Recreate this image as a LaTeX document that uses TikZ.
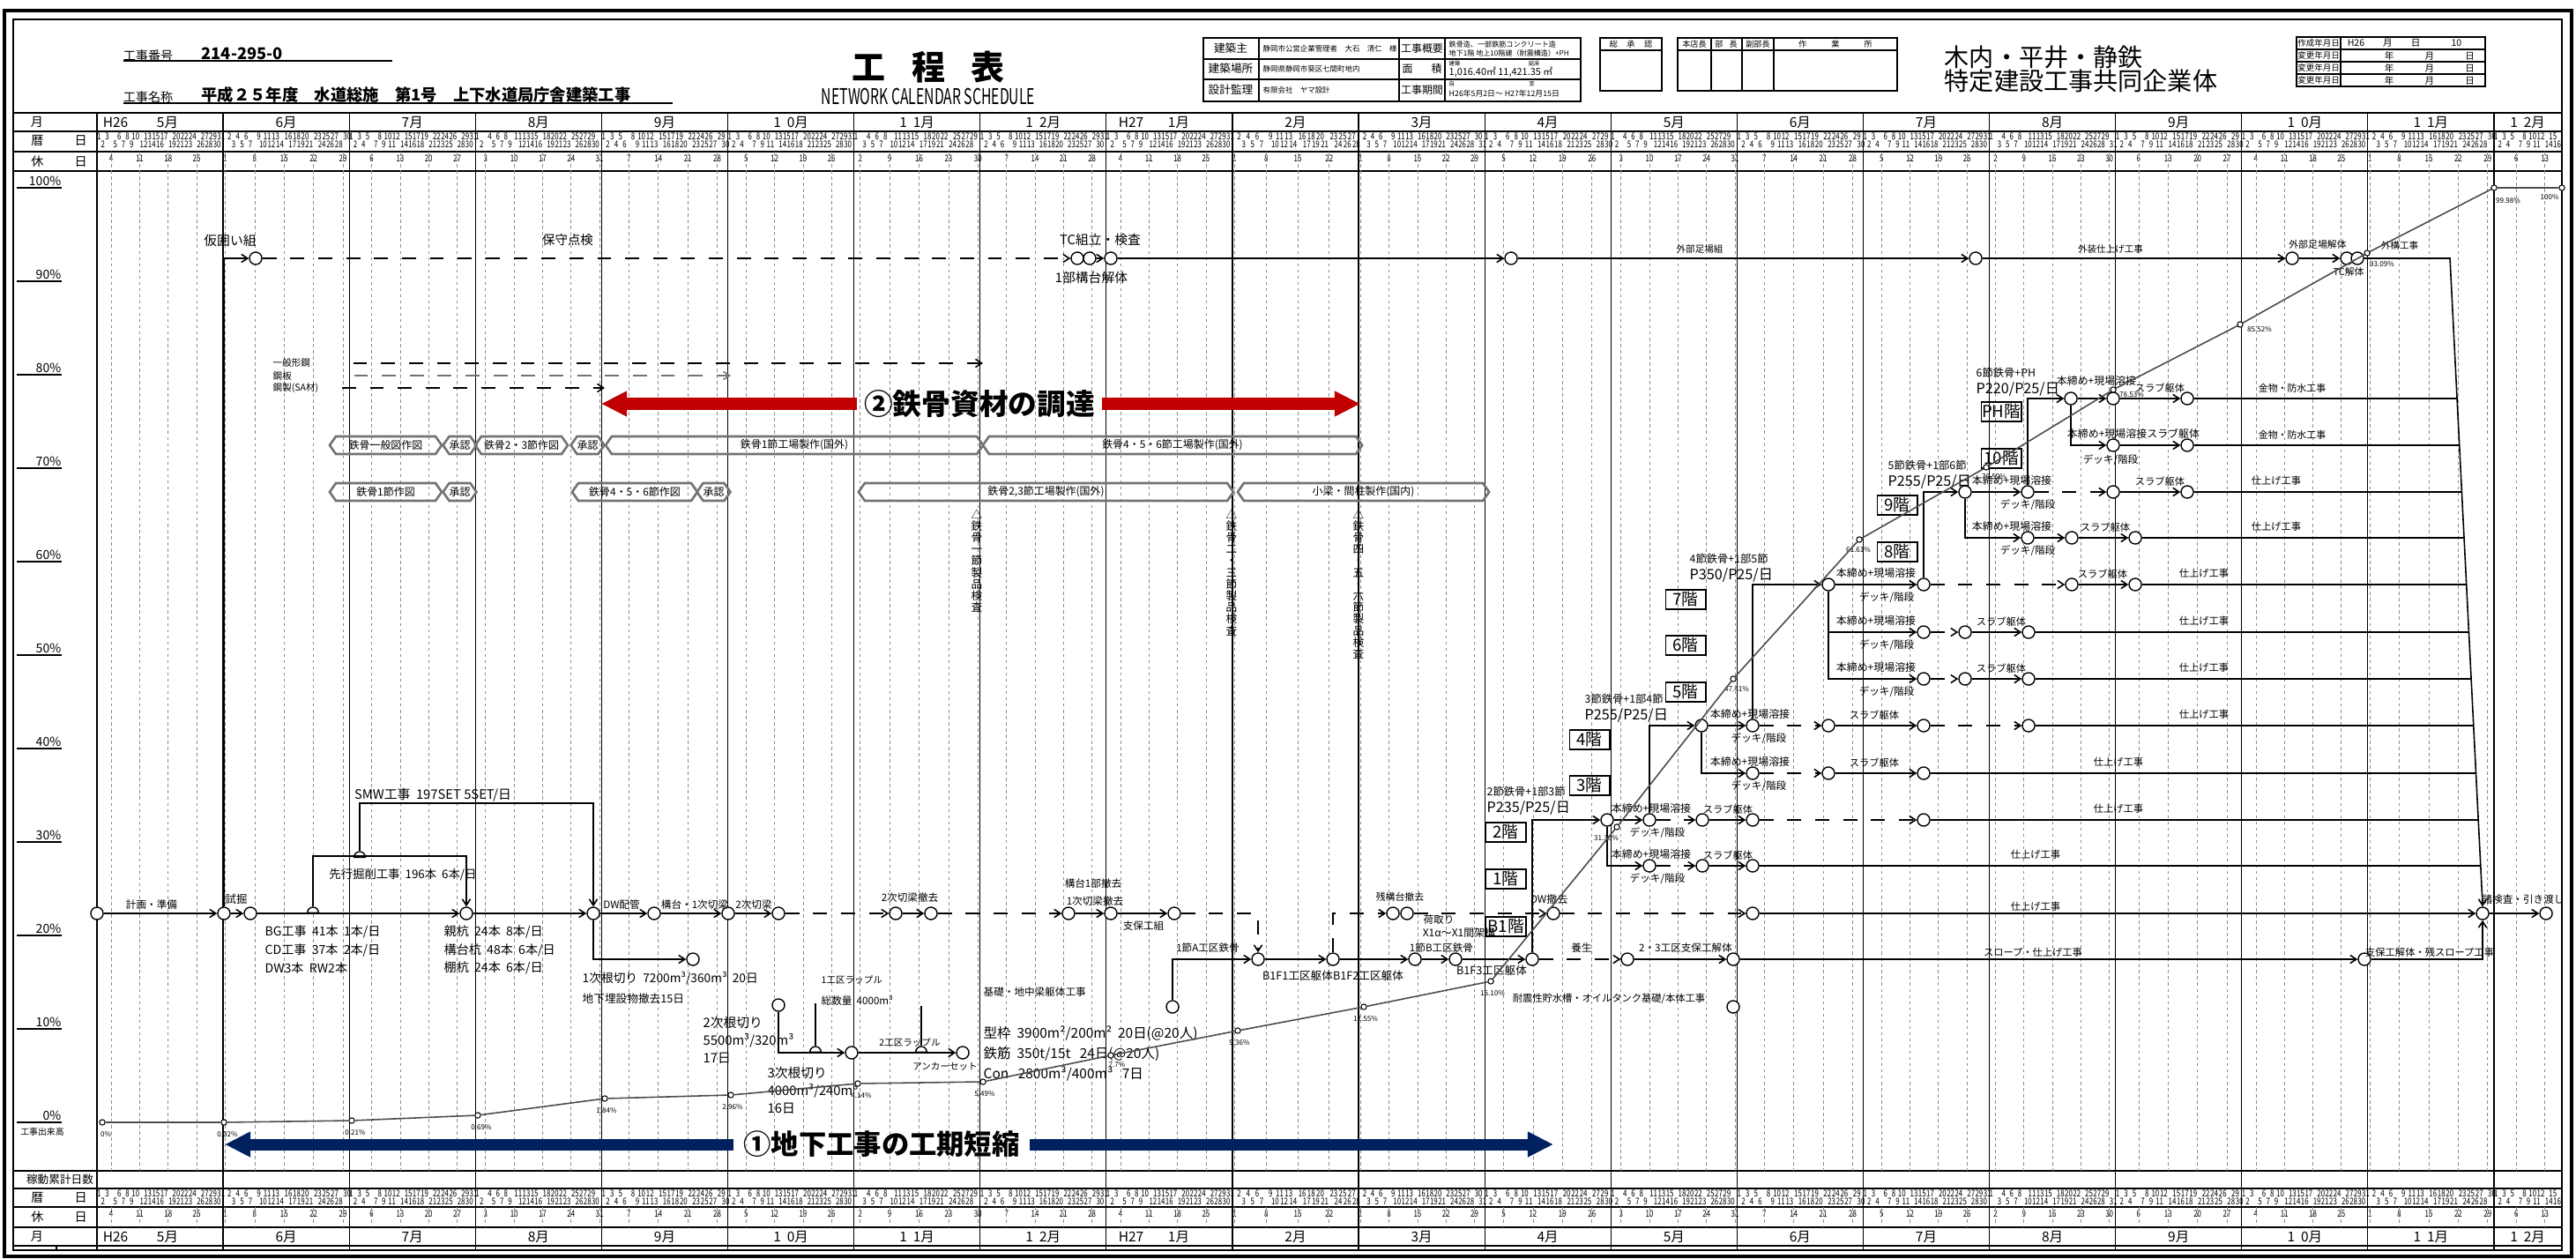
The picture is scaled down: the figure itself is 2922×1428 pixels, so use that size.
\documentclass[tikz,border=0pt]{standalone}
\usepackage{fontspec}
\setmainfont{Noto Sans CJK JP}
\usepackage{graphicx}
\usetikzlibrary{arrows.meta, positioning, calc, shapes.geometric, shapes.symbols}
\definecolor{procred}{HTML}{C00000}
\definecolor{undernavy}{HTML}{002060}
\newcounter{wd}
\newcommand\fsz[1]{\fontsize{#1}{#1}\selectfont}
% chevron box between two x positions
\newcommand\chevbox[5]{\node[chev, minimum width={(#3-#2)*0.2845pt}] (#1) at ({(#2+#3)/2},#4) {#5};}
% line from a node to the slanted closing line
\newcommand\tofin[2]{\draw[lin] (#1) -- ($(rt)!{(#2-293)/733}!(ft)$);}

\begin{document}
\begin{tikzpicture}[x=0.01cm, y=-0.01cm,
  every node/.style={inner sep=0pt, font=\fsz{3.3}},
  ev/.style={circle, draw, fill=white, minimum size=4pt, line width=0.4pt},
  hc/.style={semicircle, draw, fill=white, minimum width=3.6pt, anchor=chord center, line width=0.4pt},
  cpt/.style={circle, draw, fill=white, minimum size=1.8pt, line width=0.3pt},
  lin/.style={line width=0.45pt},
  lind/.style={lin, dash pattern=on 4.5pt off 4.5pt},
  act/.style={lin, -{Straight Barb[length=2pt, width=2.6pt]}},
  actd/.style={act, dash pattern=on 4.5pt off 4.5pt},
  curve/.style={line width=0.45pt, black!70},
  flr/.style={draw, line width=0.55pt, minimum width=12.8pt, minimum height=6.2pt, font=\fsz{5.3}},
  chev/.style={signal, signal to=east and west, signal pointer angle=110, draw=black!55, line width=0.75pt, minimum height=5.7pt, font=\fsz{3.4}},
  vlab/.style={align=center, font=\fontsize{3.6}{3.75}\selectfont, anchor=north},
  pct/.style={font=\fsz{2.3}},
  grid/.style={line width=0.35pt},
  sunl/.style={line width=0.2pt, black!45, dash pattern=on 1pt off 1pt},
  daynum/.style={font=\fsz{3}},
  mon/.style={font=\fsz{4.4}},
  redarr/.style={line width=3.7pt, procred, -{Triangle[length=8.3pt, width=7.7pt]}},
  bluearr/.style={line width=3.7pt, undernavy, -{Triangle[length=8.3pt, width=7.7pt]}}
]
\useasboundingbox (0,0) rectangle (2922,1428);

% frame
\draw[line width=1.1pt] (5,12) rectangle (2917,1425);
\draw[line width=0.5pt] (15,22) rectangle (2906,1418);

% title block
\node[font=\fsz{4}] (noLbl) at (168,63) {工事番号};
\node[anchor=west, font=\bfseries\fsz{5.2}] (noVal) at (228,61) {214-295-0};
\draw[grid] (140,69) -- (445,69);
\node[font=\fsz{4}] (nmLbl) at (168,110) {工事名称};
\node[anchor=west, font=\bfseries\fsz{5.2}] (nmVal) at (228,108) {平成２５年度　水道総施　第1号　上下水道局庁舎建築工事};
\draw[grid] (140,117) -- (763,117);
\node[font=\bfseries\fsz{10.8}] (ttl) at (1053,76) {工\hspace{8.3pt}程\hspace{8.3pt}表};
\node (ttlEn) at (1053,109) {\scalebox{0.64}[1]{\fsz{7}NETWORK CALENDAR SCHEDULE}};

% project table
\draw[line width=0.5pt] (1365,43) rectangle (1793,115);
\draw[grid] (1365,67) -- (1793,67);
\draw[grid] (1365,90) -- (1793,90);
\foreach \xx in {1428,1587,1639} \draw[grid] (\xx,43) -- (\xx,115);
\node[font=\fsz{3.6}] (pOwner) at (1396,55) {建築主};
\node[font=\fsz{3.6}] (pSite) at (1396,78) {建築場所};
\node[font=\fsz{3.6}] (pDesign) at (1396,102) {設計監理};
\node[anchor=west, font=\fsz{2.4}] (vOwner) at (1432,55) {静岡市公営企業管理者　大石　清仁　様};
\node[anchor=west, font=\fsz{2.4}] (vSite) at (1432,78) {静岡県静岡市葵区七間町地内};
\node[anchor=west, font=\fsz{2.4}] (vDesign) at (1432,102) {有限会社　ヤマ設計};
\node[font=\fsz{3.4}] (pOutline) at (1613,55) {工事概要};
\node[font=\fsz{3.4}] (pArea) at (1613,78) {面\hspace{6pt}積};
\node[font=\fsz{3.4}] (pTerm) at (1613,102) {工事期間};
\node[anchor=west, font=\fsz{2.3}] (vOut1) at (1643,50) {鉄骨造、一部鉄筋コンクリート造};
\node[anchor=west, font=\fsz{2.3}] (vOut2) at (1643,60) {地下1階 地上10階建（耐震構造）+PH};
\node[anchor=west, font=\fsz{1.8}] (vArea1) at (1643,72) {建築\hspace{22pt}延床};
\node[anchor=west, font=\fsz{3.1}] (vArea2) at (1643,82) {1,016.40㎡ 11,421.35 ㎡};
\node[anchor=west, font=\fsz{1.8}] (vTerm1) at (1643,95) {自\hspace{24pt}至};
\node[anchor=west, font=\fsz{2.5}] (vTerm2) at (1643,106) {H26年5月2日〜 H27年12月15日};

% approval boxes
\draw[grid] (1815,43) rectangle (1885,103);
\draw[grid] (1815,57) -- (1885,57);
\node[font=\fsz{2.6}] (apHead) at (1850,50) {総\hspace{3pt}承\hspace{3pt}認};
\draw[grid] (1903,43) rectangle (2152,103);
\draw[grid] (1903,57) -- (2152,57);
\foreach \xx in {1941,1976,2012} \draw[grid] (\xx,43) -- (\xx,103);
\node[font=\fsz{2.6}] (apBoss) at (1922,50) {本店長};
\node[font=\fsz{2.6}] (apMgr) at (1958,50) {部\hspace{2pt}長};
\node[font=\fsz{2.6}] (apSub) at (1994,50) {副部長};
\node[font=\fsz{2.6}] (apSite) at (2082,50) {作\hspace{8pt}業\hspace{8pt}所};

% contractor
\node[anchor=west, font=\fsz{8}] (jv1) at (2205,65) {木内・平井・静鉄};
\node[anchor=west, font=\fsz{8}] (jv2) at (2205,92) {特定建設工事共同企業体};

% revision table
\draw[grid] (2605,42) rectangle (2819,98);
\foreach \yy in {56,70,84} \draw[grid] (2605,\yy) -- (2819,\yy);
\draw[grid] (2655,42) -- (2655,98);
\node[font=\fsz{2.7}] (rvMade) at (2630,49) {作成年月日};
\node[anchor=west, font=\fsz{3}] (rvMadeV) at (2662,49) {H26\hspace{6pt}月\hspace{6pt}日\hspace{10pt}10};
\foreach \yy [count=\i] in {63,77,91}{
  \node[font=\fsz{2.7}] (rvChg\i) at (2630,\yy) {変更年月日};
  \node[anchor=west, font=\fsz{3}] (rvChgV\i) at (2662,\yy) {\hspace{12pt}年\hspace{10pt}月\hspace{10pt}日};
}

% calendar rows
\foreach \yy in {128,149,172,194,1328,1348,1369,1392,1413} \draw[grid] (15,\yy) -- (2906,\yy);
\foreach \m in {0,...,19} \draw[grid] ({110+143.1*\m},128) -- ({110+143.1*\m},1418);
\draw[grid] (64,1413) -- (64,1418);
\node[font=\fsz{4}] (lMonth) at (42,139) {月};
\node[font=\fsz{4}] (lCal) at (67,160) {暦\hspace{10pt}日};
\node[font=\fsz{4}] (lHol) at (67,183) {休\hspace{10pt}日};
\node[font=\fsz{3.6}] (lCum) at (68,1338) {稼動累計日数};
\node[font=\fsz{4}] (lCal2) at (67,1358) {暦\hspace{10pt}日};
\node[font=\fsz{4}] (lHol2) at (67,1380) {休\hspace{10pt}日};
\node[font=\fsz{4}] (lMonth2) at (42,1403) {月};

\foreach \m/\lab in {0/5月,1/6月,2/7月,3/8月,4/9月,5/{1~~0月},6/{1~~1月},7/{1~~2月},8/1月,9/2月,
    10/3月,11/4月,12/5月,13/6月,14/7月,15/8月,16/9月,17/{1~~0月},18/{1~~1月},19/{1~~2月}}{
  \pgfmathsetmacro\xm{110+143.1*(\m+0.5)}
  \ifnum\m=0 \def\xm{190}\fi
  \ifnum\m=8 \def\xm{1337}\fi
  \ifnum\m=19 \def\xm{2867}\fi
  \node[mon] (mt\m) at (\xm,139) {\lab};
  \node[mon] (mb\m) at (\xm,1403) {\lab};
}
\node[mon] (yrA) at (131,139) {H26};
\node[mon] (yrAb) at (131,1403) {H26};
\node[mon] (yrB) at (1283,139) {H27};
\node[mon] (yrBb) at (1283,1403) {H27};

% days: working days alternate on two lines, Sundays in the holiday row
\foreach \m/\nd/\st/\ns in {0/31/4/31,1/30/0/30,2/31/2/31,3/31/5/31,4/30/1/30,5/31/3/31,6/30/6/30,
    7/31/1/31,8/31/4/31,9/28/0/28,10/31/0/31,11/30/3/30,12/31/5/31,13/30/1/30,14/31/3/31,
    15/31/6/31,16/30/2/30,17/31/4/31,18/30/0/30,19/31/2/16}{
  \setcounter{wd}{0}
  \foreach \d in {1,...,\ns}{
    \pgfmathtruncatemacro\dow{mod(\st+\d-1,7)}
    \pgfmathsetmacro\xx{110+143.1*\m+(\d-0.5)*143.1/\nd}
    \ifnum\dow=0
      \node[daynum] (ht-\m-\d) at (\xx,180) {\scalebox{0.75}[1]{\d}};
      \node[daynum] (hb-\m-\d) at (\xx,1377) {\scalebox{0.75}[1]{\d}};
      \draw[sunl] (\xx,172) -- (\xx,1328);
      \draw[sunl] (\xx,1369) -- (\xx,1392);
    \else
      \stepcounter{wd}
      \ifodd\value{wd}
        \node[daynum] (ct-\m-\d) at (\xx,155) {\scalebox{0.75}[1]{\d}};
        \node[daynum] (cb-\m-\d) at (\xx,1354) {\scalebox{0.75}[1]{\d}};
      \else
        \node[daynum] (ct-\m-\d) at (\xx,164) {\scalebox{0.75}[1]{\d}};
        \node[daynum] (cb-\m-\d) at (\xx,1363) {\scalebox{0.75}[1]{\d}};
      \fi
    \fi
  }
}

% percent scale
\foreach \p in {0,10,...,100}{
  \pgfmathsetmacro\yy{1273-10.6*\p}
  \draw[line width=0.5pt] (19,\yy) -- (70,\yy);
  \node[anchor=south east, font=\fsz{4}] (pc\p) at (70,\yy-2) {\p\%};
}
\node[font=\fsz{2.8}] (lDone) at (48,1284) {工事出来高};

% steel drawings and fabrication
\chevbox{cv1}{374}{501}{505}{鉄骨一般図作図}
\chevbox{cv2}{504}{539}{505}{承認}
\chevbox{cv3}{539}{644}{505}{鉄骨2・3節作図}
\chevbox{cv4}{649}{684}{505}{承認}
\chevbox{cv5}{687}{1115}{505}{鉄骨1節工場製作(国外)}
\chevbox{cv6}{1115}{1545}{505}{鉄骨4・5・6節工場製作(国外)}
\chevbox{cv7}{374}{501}{558}{鉄骨1節作図}
\chevbox{cv8}{504}{539}{558}{承認}
\chevbox{cv9}{649}{791}{558}{鉄骨4・5・6節作図}
\chevbox{cv10}{792}{827}{558}{承認}
\chevbox{cv11}{974}{1399}{558}{鉄骨2,3節工場製作(国外)}
\chevbox{cv12}{1404}{1689}{558}{小梁・間柱製作(国内)}

\node[vlab] (insp1) at (1108,577) {△\\鉄\\骨\\一\\節\\製\\品\\検\\査};
\node[vlab] (insp2) at (1397,577) {△\\鉄\\骨\\二\\・\\三\\節\\製\\品\\検\\査};
\node[vlab] (insp3) at (1541,577) {△\\鉄\\骨\\四\\・\\五\\・\\六\\節\\製\\品\\検\\査};

% material orders
\node[anchor=west, font=\fsz{3}] (tIppan) at (309,412) {一般形鋼};
\node[anchor=west, font=\fsz{3}] (tKohan) at (309,426) {鋼板};
\node[anchor=west, font=\fsz{3}] (tSA) at (309,440) {鋼製(SA材)};
\coordinate (pe1) at (1115,412);
\coordinate (pe2) at (829,426);
\coordinate (pe3) at (686,440);
\draw[actd] ($(tIppan.east)+(48,0)$) -- (pe1);
\draw[actd, black!55] ($(tKohan.east)+(70,0)$) -- (pe2);
\draw[actd] ($(tSA.east)+(26,0)$) -- (pe3);

% big arrows
\node[font=\bfseries\fsz{9.3}, inner sep=2pt] (procure) at (1111,458) {②鉄骨資材の調達};
\coordinate (procL) at (682,458);
\coordinate (procR) at (1543,458);
\draw[redarr] (procure.west) -- (procL);
\draw[redarr] (procure.east) -- (procR);
\node[font=\bfseries\fsz{8.9}, inner sep=3pt] (undergr) at (1000,1298) {①地下工事の工期短縮};
\coordinate (ugL) at (255,1298);
\coordinate (ugR) at (1762,1298);
\draw[bluearr] (undergr.west) -- (ugL);
\draw[bluearr] (undergr.east) -- (ugR);

% top row: temporary works
\node[ev] (kakoi) at (290,293) {};
\node[ev] (tc1) at (1222,293) {};
\node[ev] (tc2) at (1236,293) {};
\node[ev] (tc3) at (1260,293) {};
\node[ev] (ex1) at (1714,293) {};
\node[ev] (ex2) at (2241,293) {};
\node[ev] (ex3) at (2600,293) {};
\node[ev] (ex4) at (2662,293) {};
\node[ev] (ex5) at (2674,293) {};
\coordinate (rt) at (2779,293);
\coordinate (ft) at (2816,1026);
\node[ev] (fin) at (2816,1036) {};
\node[ev] (fin2) at (2888,1036) {};
\node[font=\fsz{4.2}] (tKakoi) at (261,273) {仮囲い組};
\node[font=\fsz{4.1}] (tHoshu) at (644,272) {保守点検};
\node[font=\fsz{4.2}] (tTC) at (1248,272) {TC組立・検査};
\node[font=\fsz{4.2}] (tKodaiK) at (1238,315) {1部構台解体};
\node[font=\fsz{3}] (tAshiba) at (1928,283) {外部足場組};
\node[font=\fsz{3}] (tGaiso) at (2394,283) {外装仕上げ工事};
\node[font=\fsz{3.1}] (tAshibaK) at (2629,277) {外部足場解体};
\node[font=\fsz{3.1}] (tTCk) at (2664,308) {TC解体};
\node[font=\fsz{3}] (tGaiko) at (2722,279) {外構工事};
\node[font=\fsz{3.3}] (tKensa) at (2862,1020) {諸検査・引き渡し};

% main row
\node[ev] (e1) at (110,1036) {};
\node[ev] (e2) at (254,1036) {};
\node[ev] (e3) at (284,1036) {};
\node[hc] (h1) at (355,1036) {};
\node[ev] (e4) at (529,1036) {};
\node[hc] (h2) at (408,973) {};
\node[ev] (e5) at (673,1036) {};
\node[ev] (e6) at (742,1036) {};
\node[ev] (e7) at (826,1036) {};
\node[ev] (e8) at (883,1036) {};
\node[ev] (e9) at (1016,1036) {};
\node[ev] (e10) at (1056,1036) {};
\node[ev] (e11) at (1212,1036) {};
\node[ev] (e12) at (1260,1036) {};
\node[ev] (e13) at (1332,1036) {};
\node[ev] (e14) at (1580,1036) {};
\node[ev] (e14b) at (1596,1036) {};
\node[ev] (e15) at (1762,1036) {};
\node[ev] (e16) at (1988,1036) {};

\draw[act] (e1) -- (e2);
\draw[act] (e2) -- (e3);
\draw[act] (e2) |- (kakoi);
\draw[actd] (kakoi) -- (tc1);
\draw[act] (tc2) -- (tc3);
\draw[act] (tc3) -- (ex1);
\draw[act] (ex1) -- (ex2);
\draw[act] (ex2) -- (ex3);
\draw[act] (ex3) -- (ex4);
\draw[lin] (ex5) -- (rt) -- (ft);
\draw[act] (ft) -- (fin);
\draw[act] (fin) -- (fin2);
\draw[act] (e3) -- (e4);
\draw[act] (h1.apex) -- ++(0,-57) -| (e4.north);
\draw[act] (h2.apex) -- ++(0,-54) -| (e5.north);
\draw[act] (e4) -- (e5);
\draw[act] (e5) -- (e6);
\draw[act] (e6) -- (e7);
\draw[act] (e7) -- (e8);
\draw[actd] (e8) -- (e9);
\draw[act] (e9) -- (e10);
\draw[actd] (e10) -- (e11);
\draw[act] (e11) -- (e12);
\draw[act] (e12) -- (e13);
\draw[actd] (e14b) -- (e15);
\draw[actd] (e15) -- (e16);
\draw[act] (e16) -- (fin);

\node (tKeikaku) at (172,1026) {計画・準備};
\node[font=\fsz{3.5}] (tShikutsu) at (268,1020) {試掘};
\node[font=\fsz{3.8}] (tSenko) at (457,992) {先行掘削工事\ \ 196本\ \ 6本/日};
\node[font=\fsz{4.2}] (tSMW) at (491,902) {SMW工事\ \ 197SET 5SET/日};
\node[anchor=west, font=\fsz{4}] (tBG) at (300,1057) {BG工事\ \ 41本\ \ 1本/日};
\node[anchor=west, font=\fsz{4}] (tCD) at (300,1078) {CD工事\ \ 37本\ \ 2本/日};
\node[anchor=west, font=\fsz{4}] (tDW) at (300,1098) {DW3本\ \ RW2本};
\node[anchor=west, font=\fsz{4}] (tOya) at (503,1057) {親杭\ \ 24本\ \ 8本/日};
\node[anchor=west, font=\fsz{4}] (tKodaiKui) at (503,1078) {構台杭\ \ 48本\ \ 6本/日};
\node[anchor=west, font=\fsz{4}] (tTana) at (503,1098) {棚杭\ \ 24本\ \ 6本/日};
\node (tDWpipe) at (705,1026) {DW配管};
\node (tKodaiKiri) at (788,1026) {構台・1次切梁};
\node (t2ji) at (855,1026) {2次切梁};
\node (t2jiTek) at (1032,1018) {2次切梁撤去};
\node (tKodai1) at (1240,1002) {構台1部撤去};
\node (t1jiTek) at (1242,1022) {1次切梁撤去};
\node (tShiho) at (1297,1050) {支保工組};
\node[font=\fsz{3.1}] (tZan) at (1588,1017) {残構台撤去};
\node (tNitori) at (1632,1043) {荷取り};
\node[font=\fsz{3.4}] (tX1) at (1655,1058) {X1α〜X1間架構};
\node[font=\fsz{3.4}] (tDWt) at (1757,1020) {DW撤去};
\node[font=\fsz{3.2}] (tShiage0) at (2309,1028) {仕上げ工事};

% excavation
\node[ev] (k1) at (786,1088) {};
\node[ev] (k2) at (883,1140) {};
\node[ev] (k3) at (966,1194) {};
\node[hc] (h3) at (925,1194) {};
\node[ev] (k4) at (1092,1194) {};
\node[hc] (h4) at (1045,1194) {};
\draw[act] (e5) |- (k1);
\draw[act] (k2) |- (k3);
\draw[act] (k3) -- (k4);
\draw[lin] (h3.apex) -- ++(0,-48);
\draw[lin] (h4.apex) -- ++(0,-45);
\node[anchor=west, font=\fsz{3.9}] (t1jiNe) at (660,1110) {1次根切り\ \ 7200m³/360m³\ \ 20日};
\node[anchor=west, font=\fsz{3.6}] (tMaisetsu) at (660,1133) {地下埋設物撤去15日};
\node[anchor=west, font=\fsz{3}] (t1Rap) at (931,1112) {1工区ラップル};
\node[anchor=west, font=\fsz{3.3}] (tSoryo) at (931,1135) {総数量\ \ 4000m³};
\node[font=\fsz{3}] (t2Rap) at (1032,1183) {2工区ラップル};
\node[font=\fsz{3}] (tAnchor) at (1072,1210) {アンカーセット};
\node[anchor=north west, align=left, font=\fontsize{4.2}{5.7}\selectfont] (t2jiNe) at (797,1152) {2次根切り\\5500m³/320m³\\17日};
\node[anchor=north west, align=left, font=\fontsize{4.2}{5.7}\selectfont] (t3jiNe) at (870,1209) {3次根切り\\4000m³/240m³\\16日};
\node[anchor=west, font=\fsz{3.3}] (tKiso) at (1115,1125) {基礎・地中梁躯体工事};
\node[anchor=west, font=\fsz{4.4}] (tKata) at (1115,1172) {型枠\ \ 3900m²/200m²\ \ 20日(@20人)};
\node[anchor=west, font=\fsz{4.4}] (tTekkin) at (1115,1195) {鉄筋\ \ 350t/15t\ \ \ 24日(@20人)};
\node[anchor=west, font=\fsz{4.4}] (tCon) at (1115,1218) {Con\ \ \ 2800m³/400m³\ \ \ 7日};

% basement frame row
\node[ev] (f0) at (1330,1142) {};
\node[ev] (f1) at (1427,1088) {};
\node[ev] (f2) at (1512,1088) {};
\node[ev] (f3) at (1605,1088) {};
\node[ev] (f4) at (1651,1088) {};
\node[ev] (f5) at (1738,1088) {};
\node[ev] (f6) at (1846,1088) {};
\node[ev] (f7) at (1966,1088) {};
\node[ev] (f8) at (1966,1142) {};
\node[ev] (g1) at (2682,1088) {};
\draw[act] (f0) |- (f1);
\draw[actd] (e13) -| (f1);
\draw[actd] (f2) |- (e14);
\draw[act] (f1) -- (f2);
\draw[act] (f2) -- (f3);
\draw[act] (f3) -- (f4);
\draw[act] (f4) -- (f5);
\draw[actd] (f5) -- (f6);
\draw[act] (f6) -- (f7);
\draw[act] (f7) -- (g1);
\draw[act] (g1) -| (fin);
\node (t1A) at (1370,1075) {1節A工区鉄骨};
\node[font=\fsz{3.6}] (tB1F1) at (1472,1107) {B1F1工区躯体};
\node[font=\fsz{3.6}] (tB1F2) at (1552,1107) {B1F2工区躯体};
\node (t1B) at (1635,1075) {1節B工区鉄骨};
\node[font=\fsz{3.6}] (tB1F3) at (1692,1101) {B1F3工区躯体};
\node (tYojo) at (1794,1075) {養生};
\node (t23) at (1912,1075) {2・3工区支保工解体};
\node[font=\fsz{3.2}] (tTaishin) at (1825,1133) {耐震性貯水槽・オイルタンク基礎/本体工事};
\node[font=\fsz{3.2}] (tSlope) at (2306,1080) {スロープ・仕上げ工事};
\node[font=\fsz{3.2}] (tShiho2) at (2756,1080) {支保工解体・残スロープ工事};

% floors
\foreach \fl/\xx/\yy in {B1/1708/1051,1/1708/997,2/1708/944,3/1803/891,4/1803/839,5/1912/785,
    6/1912/732,7/1912/680,8/2152/626,9/2152/573,10/2270/520,PH/2270/467}
  \node[flr] (fl\fl) at (\xx,\yy) {\fl 階};

% steel erection
\node[ev] (s2a) at (1823,930) {};
\node[ev] (s2b) at (1871,930) {};
\node[ev] (s2c) at (1931,930) {};
\node[ev] (s2d) at (1988,930) {};
\node[ev] (s2e) at (2182,930) {};
\node[ev] (s2f) at (1871,982) {};
\node[ev] (s2g) at (1931,982) {};
\node[ev] (s2h) at (1988,982) {};
\node[ev] (s3a) at (1930,823) {};
\node[ev] (s3b) at (1988,823) {};
\node[ev] (s3c) at (2074,823) {};
\node[ev] (s3d) at (2182,823) {};
\node[ev] (s3e) at (2301,823) {};
\node[ev] (s3f) at (1988,877) {};
\node[ev] (s3g) at (2074,877) {};
\node[ev] (s3h) at (2182,877) {};
\node[ev] (s4a) at (2074,663) {};
\node[ev] (s4b) at (2182,663) {};
\node[ev] (s4c) at (2350,663) {};
\node[ev] (s4d) at (2422,663) {};
\node[ev] (s4e) at (2182,717) {};
\node[ev] (s4f) at (2229,717) {};
\node[ev] (s4g) at (2301,717) {};
\node[ev] (s4h) at (2182,770) {};
\node[ev] (s4i) at (2229,770) {};
\node[ev] (s4j) at (2301,770) {};
\node[ev] (s5a) at (2229,558) {};
\node[ev] (s5b) at (2300,558) {};
\node[ev] (s5c) at (2397,558) {};
\node[ev] (s5d) at (2481,558) {};
\node[ev] (s5e) at (2300,610) {};
\node[ev] (s5f) at (2350,610) {};
\node[ev] (s5g) at (2422,610) {};
\node[ev] (s6a) at (2349,452) {};
\node[ev] (s6b) at (2397,452) {};
\node[ev] (s6c) at (2481,452) {};
\node[ev] (s6d) at (2397,505) {};
\node[ev] (s6e) at (2481,505) {};

\draw[act] (f5) |- (s2a);
\draw[act] (s2a) -- (s2b);
\draw[actd] (s2b) -- (s2c);
\draw[act] (s2c) -- (s2d);
\draw[actd] (s2d) -- (s2e);
\tofin{s2e}{930}
\draw[act] (s2a) |- (s2f);
\draw[actd] (s2f) -- (s2g);
\draw[act] (s2g) -- (s2h);
\tofin{s2h}{982}
\draw[act] (s2b) |- (s3a);
\draw[act] (s3a) -- (s3b);
\draw[actd] (s3b) -- (s3c);
\draw[act] (s3c) -- (s3d);
\draw[actd] (s3d) -- (s3e);
\tofin{s3e}{823}
\draw[act] (s3a) |- (s3f);
\draw[actd] (s3f) -- (s3g);
\draw[act] (s3g) -- (s3h);
\tofin{s3h}{877}
\draw[act] (s3b) |- (s4a);
\draw[act] (s4a) -- (s4b);
\draw[actd] (s4b) -- (s4c);
\draw[act] (s4c) -- (s4d);
\tofin{s4d}{663}
\draw[act] (s4a) |- (s4e);
\draw[actd] (s4e) -- (s4f);
\draw[act] (s4f) -- (s4g);
\tofin{s4g}{717}
\draw[act] (s4a) |- (s4h);
\draw[actd] (s4h) -- (s4i);
\draw[act] (s4i) -- (s4j);
\tofin{s4j}{770}
\draw[act] (s4b) |- (s5a);
\draw[act] (s5a) -- (s5b);
\draw[actd] (s5b) -- (s5c);
\draw[act] (s5c) -- (s5d);
\tofin{s5d}{558}
\draw[act] (s5a) |- (s5e);
\draw[act] (s5e) -- (s5f);
\draw[act] (s5f) -- (s5g);
\tofin{s5g}{610}
\draw[act] (s5b) |- (s6a);
\draw[act] (s6a) -- (s6b);
\draw[act] (s6b) -- (s6c);
\tofin{s6c}{452}
\draw[act] (s6a) |- (s6d);
\draw[act] (s6d) -- (s6e);
\tofin{s6e}{505}

\node[anchor=west, font=\fsz{3.5}] (t2set) at (1686,898) {2節鉄骨+1部3節};
\node[anchor=west, font=\fsz{4.6}] (t2p) at (1686,917) {P235/P25/日};
\node[anchor=west, font=\fsz{3.5}] (t3set) at (1797,793) {3節鉄骨+1部4節};
\node[anchor=west, font=\fsz{4.6}] (t3p) at (1797,812) {P255/P25/日};
\node[anchor=west, font=\fsz{3.5}] (t4set) at (1916,634) {4節鉄骨+1部5節};
\node[anchor=west, font=\fsz{4.6}] (t4p) at (1916,653) {P350/P25/日};
\node[anchor=west, font=\fsz{3.5}] (t5set) at (2141,528) {5節鉄骨+1部6節};
\node[anchor=west, font=\fsz{4.6}] (t5p) at (2141,547) {P255/P25/日};
\node[anchor=west, font=\fsz{3.5}] (t6set) at (2241,423) {6節鉄骨+PH};
\node[anchor=west, font=\fsz{4.6}] (t6p) at (2241,442) {P220/P25/日};

\foreach \nm/\xh/\xd/\xs/\xf/\yy/\fin in {2a/1873/1880/1960/2403/930/仕上げ工事, 2f/1873/1880/1960/2309/982/仕上げ工事,
    3a/1985/1995/2126/2500/823/仕上げ工事, 3f/1985/1995/2126/2403/877/仕上げ工事,
    4a/2128/2140/2385/2500/663/仕上げ工事, 4e/2128/2140/2270/2500/717/仕上げ工事, 4h/2128/2140/2270/2500/770/仕上げ工事,
    5a/2282/2300/2450/2582/558/仕上げ工事, 5e/2282/2300/2388/2582/610/仕上げ工事}{
  \node[font=\fsz{3.4}] (hon\nm) at (\xh,\yy-13) {本締め+現場溶接};
  \node[font=\fsz{3.3}] (deck\nm) at (\xd,\yy+15) {デッキ/階段};
  \node[font=\fsz{3.2}] (slab\nm) at (\xs,\yy-12) {スラブ躯体};
  \node[font=\fsz{3.2}] (fini\nm) at (\xf,\yy-13) {\fin};
}
\node[font=\fsz{3.4}] (hon6a) at (2378,432) {本締め+現場溶接};
\node[font=\fsz{3.2}] (slab6a) at (2450,440) {スラブ躯体};
\node[font=\fsz{3.1}] (kana6a) at (2600,440) {金物・防水工事};
\node[font=\fsz{3.4}] (hon6d) at (2420,492) {本締め+現場溶接スラブ躯体};
\node[font=\fsz{3.3}] (deck6d) at (2394,522) {デッキ/階段};
\node[font=\fsz{3.1}] (kana6d) at (2600,493) {金物・防水工事};

% progress curve
\foreach \xx/\yy/\t/\lx/\ly [count=\i] in {116/1273/0\%/120/1287, 254/1273/0.02\%/258/1287,
    399/1271/0.21\%/403/1285, 542/1265/0.69\%/546/1279, 686/1246/1.84\%/688/1260,
    829/1242/2.96\%/831/1256, 973/1229/4.14\%/977/1243, 1115/1227/5.49\%/1117/1241,
    1260/1197/7.7\%/1267/1208, 1404/1169/9.36\%/1406/1183, 1547/1142/12.55\%/1549/1156,
    1691/1113/15.10\%/1693/1127, 1834/938/31.36\%/1822/951, 1966/770/47.41\%/1970/782,
    2109/612/61.61\%/2108/624, 2253/530/70.59\%/2262/541, 2397/442/78.53\%/2418/448,
    2541/368/85.52\%/2563/374, 2685/287/93.09\%/2702/300, 2829/213/99.98\%/2845/228,
    2906/213/100\%/2892/224}{
  \node[cpt] (c\i) at (\xx,\yy) {};
  \node[pct] (cl\i) at (\lx,\ly) {\t};
}
\foreach \i [evaluate=\i as \j using int(\i+1)] in {1,...,20}
  \draw[curve] (c\i) -- (c\j);
\end{tikzpicture}
\end{document}
